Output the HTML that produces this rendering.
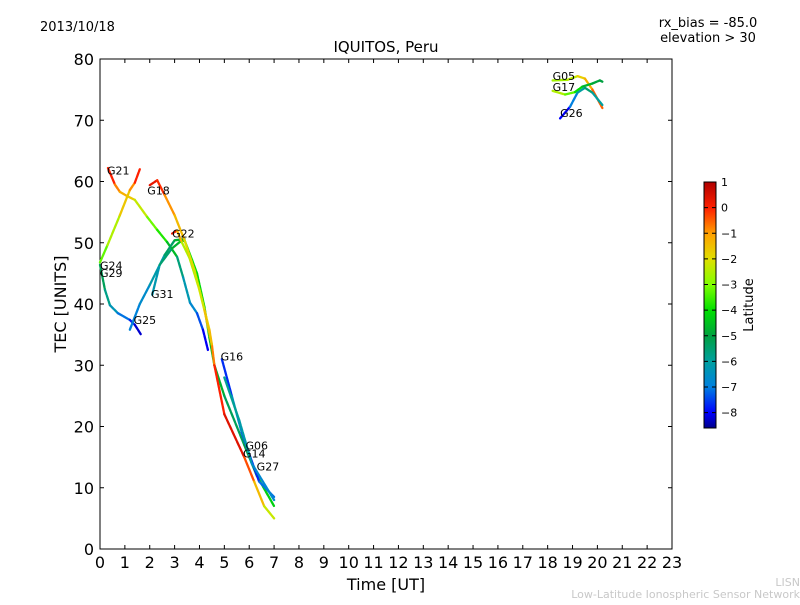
<!DOCTYPE html>
<html><head><meta charset="utf-8"><style>
body{margin:0;background:#fff;}
svg text{font-family:"DejaVu Sans","Liberation Sans",sans-serif;}
</style></head><body>
<svg width="800" height="600" viewBox="0 0 800 600" xmlns="http://www.w3.org/2000/svg">
<defs>
<linearGradient id="cbgrad" x1="0" y1="1" x2="0" y2="0">
<stop offset="0" stop-color="#00008b"/>
<stop offset="0.062" stop-color="#0000ff"/>
<stop offset="0.166" stop-color="#0080e0"/>
<stop offset="0.27" stop-color="#00a0a0"/>
<stop offset="0.374" stop-color="#00a040"/>
<stop offset="0.478" stop-color="#00e000"/>
<stop offset="0.582" stop-color="#80ff00"/>
<stop offset="0.686" stop-color="#e0e000"/>
<stop offset="0.79" stop-color="#ffa000"/>
<stop offset="0.894" stop-color="#ff2000"/>
<stop offset="1" stop-color="#b00000"/>
</linearGradient>
</defs>
<text x="40" y="31" font-size="13">2013/10/18</text>
<text x="708" y="27" font-size="13" text-anchor="middle">rx_bias = -85.0</text>
<text x="708" y="42" font-size="13" text-anchor="middle">elevation &gt; 30</text>
<text x="386" y="52" font-size="15" text-anchor="middle">IQUITOS, Peru</text>
<rect x="100" y="59" width="572" height="490" fill="#fff" stroke="#000" stroke-width="1"/>
<g id="ticks"></g>
<g id="tracks"></g>
<g id="labels" font-size="11"></g>
<text x="386" y="590" font-size="16" text-anchor="middle">Time [UT]</text>
<text transform="translate(66,304) rotate(-90)" font-size="16" text-anchor="middle">TEC [UNITS]</text>
<rect x="704" y="182" width="12" height="246" fill="url(#cbgrad)" stroke="#000" stroke-width="1"/>
<g id="cbticks" font-size="11"></g>
<text transform="translate(753,305) rotate(-90)" font-size="13" text-anchor="middle">Latitude</text>
<text x="800" y="586" font-size="11" fill="#c8c8c8" text-anchor="end">LISN</text>
<text x="800" y="598" font-size="11" fill="#c8c8c8" text-anchor="end">Low-Latitude Ionospheric Sensor Network</text>
</svg>
<script>
const xTicks=[0,1,2,3,4,5,6,7,8,9,10,11,12,13,14,15,16,17,18,19,20,21,22,23];
const yTicks=[0,10,20,30,40,50,60,70,80];
const cbTicks=[1,0,-1,-2,-3,-4,-5,-6,-7,-8];
// each track: times, tec values, latitudes
const G21_t=[0.32,0.6,0.8,1.1,1.4,1.9,2.3,2.7,3.1,3.34,3.62,3.9,4.14,4.34];
const G21_v=[62.2,59.5,58.3,57.6,57,54.2,52.1,50.1,47.7,44.4,40.2,38.5,35.8,32.5];
const G21_l=[0.5,-0.5,-1,-1.5,-1.8,-2.8,-3.5,-4,-5.2,-6,-6.5,-7,-7.8,-8.3];
const G24_t=[0,0.3,0.8,1.2,1.4,1.6];
const G24_v=[46.8,49.6,54.5,58.6,59.8,62];
const G24_l=[-3.5,-3,-2,-1.2,-0.5,0.5];
const G29_t=[0,0.2,0.4,0.72,1.2,1.4,1.65];
const G29_v=[46.4,42.3,39.8,38.5,37.4,36.6,35];
const G29_l=[-5,-5.5,-6,-6.7,-7.5,-8,-8.5];
const G25_t=[1.2,1.6,2,2.6,3,3.4];
const G25_v=[35.8,40,43.1,48,50.4,50.6];
const G25_l=[-7,-6.8,-6.5,-5.8,-5,-4.5];
const G31_t=[2.1,2.4,2.9,3.2,3.4,3.7,3.9,4.2,4.4,4.6,5.0,5.8,6.3,7];
const G31_v=[41.5,46.4,49.1,50.1,50.4,47.2,45,39.5,34.5,30,25,17,12,7];
const G31_l=[-6.5,-6,-5,-4.5,-4,-4,-4,-4.2,-4.5,-4.5,-5,-5.5,-4.5,-4];
const G22_t=[2.9,3.1,3.3,3.6,4.0,4.4,4.5,4.6,5.0,5.8,6.2,6.6,7];
const G22_v=[51.5,52,50,47.5,42.3,35.8,33.3,30,22,15,11,7,5];
const G22_l=[0.3,0,-2.5,-2.5,-2.5,-1.5,-1,-0.5,0.5,0.3,-1,-1.8,-2.7];
const G18_t=[2,2.3,2.6,3,3.4,3.8,4.2,4.5];
const G18_v=[59.4,60.2,57.8,54.5,50.4,45.5,39,33.3];
const G18_l=[0.3,0.3,-0.5,-1.3,-1.5,-2.3,-2,-1];
const G16_t=[4.9,5.3,5.7,6.0,6.4,7];
const G16_v=[31,25,19,15.5,11,8.5];
const G16_l=[-8.3,-7,-6.5,-8,-7.5,-6.8];
const G06_t=[5.0,5.6,6.1,7];
const G06_v=[28,21,14,8];
const G06_l=[-6,-5.8,-6.5,-7];
const G05_t=[18.2,18.8,19.2,19.5,19.8,20.2];
const G05_v=[76.5,76.6,77.2,76.8,75,72];
const G05_l=[-2.5,-2.8,-2,-1.5,-1,0];
const G17_t=[18.2,18.7,19.1,19.4,19.8,20.1,20.2];
const G17_v=[74.8,74.2,74.6,75.5,76,76.5,76.3];
const G17_l=[-2,-3,-3.5,-4.5,-4.8,-5,-5];
const G26_t=[18.5,18.9,19.2,19.5,19.8,20.2];
const G26_v=[70.3,72.2,74.5,75.3,74.5,72.5];
const G26_l=[-8.5,-7.5,-6.5,-5.5,-5.5,-6.5];
const trackNames=["G21","G24","G29","G25","G31","G22","G18","G16","G06","G05","G17","G26"];
const trackData=[[G21_t,G21_v,G21_l],[G24_t,G24_v,G24_l],[G29_t,G29_v,G29_l],[G25_t,G25_v,G25_l],[G31_t,G31_v,G31_l],[G22_t,G22_v,G22_l],[G18_t,G18_v,G18_l],[G16_t,G16_v,G16_l],[G06_t,G06_v,G06_l],[G05_t,G05_v,G05_l],[G17_t,G17_v,G17_l],[G26_t,G26_v,G26_l]];
const labelNames=["G21","G18","G22","G24","G29","G31","G25","G16","G06","G14","G27","G05","G17","G26"];
const labelT=[0.28,1.9,2.9,0,0,2.05,1.35,4.85,5.85,5.75,6.3,18.2,18.2,18.5];
const labelV=[61.8,58.5,51.5,46.3,45.1,41.6,37.4,31.4,16.9,15.6,13.5,77.2,75.4,71.2];

const NS="http://www.w3.org/2000/svg";
const X=t=>100+t*572/23;
const Y=v=>549-v*490/80;
const CB=l=>182+(1-l)*(428-182)/9.6;
const stops=[[-8.6,[0,0,139]],[-8,[0,0,255]],[-7,[0,128,224]],[-6,[0,160,160]],[-5,[0,160,64]],[-4,[0,224,0]],[-3,[128,255,0]],[-2,[224,224,0]],[-1,[255,160,0]],[0,[255,32,0]],[1,[176,0,0]]];
function color(l){
  if(l<=stops[0][0])return "rgb("+stops[0][1]+")";
  for(let i=1;i<stops.length;i++){
    if(l<=stops[i][0]){
      const a=stops[i-1],b=stops[i],f=(l-a[0])/(b[0]-a[0]);
      const c=a[1].map((v,k)=>Math.round(v+(b[1][k]-v)*f));
      return "rgb("+c+")";
    }
  }
  return "rgb("+stops[stops.length-1][1]+")";
}
function mk(tag,attrs,parent){const e=document.createElementNS(NS,tag);for(const k in attrs)e.setAttribute(k,attrs[k]);parent.appendChild(e);return e;}
const tg=document.getElementById("ticks");
xTicks.forEach(t=>{
  const x=X(t);
  const l1=mk("line",{x1:x,x2:x,y1:549,y2:545,stroke:"#000"},tg);
  
  
  mk("line",{x1:x,x2:x,y1:59,y2:63,stroke:"#000"},tg);
  const tx=mk("text",{x:x,y:568,"font-size":16,"text-anchor":"middle"},tg);
  tx.textContent=t;
  
  
});
yTicks.forEach(v=>{
  const y=Y(v);
  const l1=mk("line",{x1:100,x2:104,y1:y,y2:y,stroke:"#000"},tg);
  
  
  mk("line",{x1:672,x2:668,y1:y,y2:y,stroke:"#000"},tg);
  const tx=mk("text",{x:94,y:y+6,"font-size":16,"text-anchor":"end"},tg);
  tx.textContent=v;
  
  
});
const trg=document.getElementById("tracks");
trackData.forEach((d,i)=>{
  const g=mk("g",{},trg);
  
  
  const [ts,vs,ls]=d;
  for(let j=0;j<ts.length-1;j++){
    const seg=mk("line",{x1:X(ts[j]),y1:Y(vs[j]),x2:X(ts[j+1]),y2:Y(vs[j+1]),stroke:color((ls[j]+ls[j+1])/2),"stroke-width":2.3,"stroke-dasharray":"5 1","stroke-linecap":"round"},g);
    
    
  }
});
const lg=document.getElementById("labels");
labelNames.forEach((n,i)=>{
  const tx=mk("text",{x:X(labelT[i]),y:Y(labelV[i])+4},lg);
  tx.textContent=n;
  
  
});
const cg=document.getElementById("cbticks");
cbTicks.forEach(l=>{
  const y=CB(l);
  mk("line",{x1:704,x2:708,y1:y,y2:y,stroke:"#000"},cg);
  mk("line",{x1:716,x2:712,y1:y,y2:y,stroke:"#000"},cg);
  const tx=mk("text",{x:721,y:y+4},cg);
  tx.textContent=l<0?"\u2212"+(-l):l;
  
  
});
</script>
</body></html>
